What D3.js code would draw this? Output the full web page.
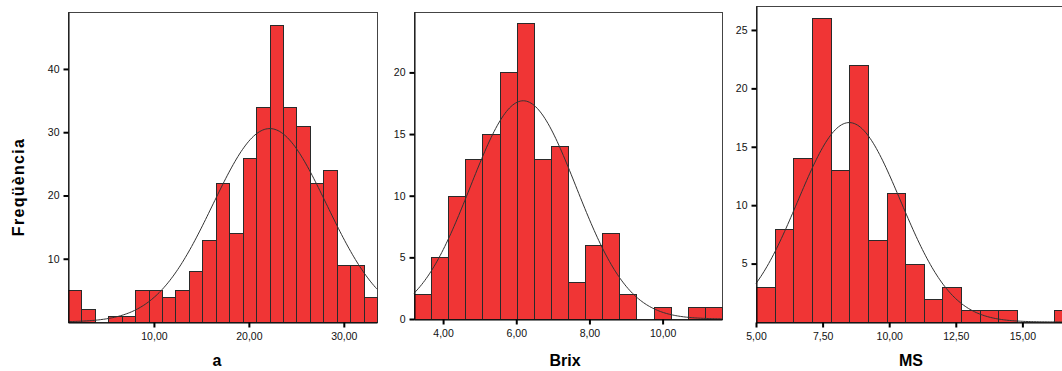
<!DOCTYPE html>
<html lang="ca">
<head>
<meta charset="utf-8">
<script src="https://d3js.org/d3.v7.min.js"></script>
<style>
  body { margin: 0; background: #fff; font-family: Arial, "Liberation Sans", sans-serif; }
  .tick text { font-size: 10.5px; fill: #111; }
  .tick line { stroke: #000; stroke-width: 2; }
  .bar { fill: #f03535; stroke: #2a2a2a; stroke-width: 1; }
  .curve { fill: none; stroke: #333; stroke-width: 1; }
  .frame { fill: none; stroke: #444; stroke-width: 1; }
  .title { font-size: 16px; font-weight: bold; }
</style>
</head>
<body>
<div id="chart"></div>
<script>
// histograms: first bin start, bin width, counts per bin
var aStart = 0.95, aWidth = 1.415;
var aCounts = [5, 2, 0, 1, 1, 5, 5, 4, 5, 8, 13, 22, 14, 26, 34, 47, 34, 31, 22, 24, 9, 9, 4];
var aMean = 22.2, aSd = 6.0;
var aTicksY = [10, 20, 30, 40];
var aTicksX = [10, 20, 30];

var brixStart = 3.205, brixWidth = 0.4677;
var brixCounts = [2, 5, 10, 13, 15, 20, 24, 13, 14, 3, 6, 7, 2, 0, 1, 0, 1, 1];
var brixMean = 6.19, brixSd = 1.444;
var brixTicksY = [0, 5, 10, 15, 20];
var brixTicksX = [4, 6, 8, 10];

var msStart = 5.0, msWidth = 0.7;
var msCounts = [3, 8, 14, 26, 13, 22, 7, 11, 5, 2, 3, 1, 1, 1, 0, 0, 1];
var msMean = 8.5, msSd = 1.93;
var msTicksY = [5, 10, 15, 20, 25];
var msTicksX = [5, 7.5, 10, 12.5, 15];

var W = 1062, H = 371;

var svg = d3.select("#chart")
    .append("svg")
    .attr("width", W)
    .attr("height", H);

// layout of the three panels
var panels = [
    { left: 68, right: 377, top: 12, bottom: 322, yMax: 49, title: "a", titleX: 217,
      start: aStart, width: aWidth, counts: aCounts, mean: aMean, sd: aSd, ticksY: aTicksY, ticksX: aTicksX },
    { left: 414, right: 722, top: 12, bottom: 319, yMax: 24.9, title: "Brix", titleX: 565,
      start: brixStart, width: brixWidth, counts: brixCounts, mean: brixMean, sd: brixSd, ticksY: brixTicksY, ticksX: brixTicksX },
    { left: 756, right: 1073, top: 6, bottom: 322, yMax: 27.05, title: "MS", titleX: 911,
      start: msStart, width: msWidth, counts: msCounts, mean: msMean, sd: msSd, ticksY: msTicksY, ticksX: msTicksX }
];

var fmt = function(d) { return d3.format(".2f")(d).replace(".", ","); };

panels.forEach(function(p) {
    var n = p.counts.length;
    var total = d3.sum(p.counts);
    var x = d3.scaleLinear()
        .domain([p.start, p.start + n * p.width])
        .range([p.left, p.right]);
    var y = d3.scaleLinear()
        .domain([0, p.yMax])
        .range([p.bottom, p.top]);

    var g = svg.append("g");

    // frame
    g.append("rect")
        .attr("class", "frame")
        .attr("x", p.left + 0.5)
        .attr("y", p.top + 0.5)
        .attr("width", p.right - p.left)
        .attr("height", p.bottom - p.top);

    // bars
    g.selectAll(".bar")
        .data(p.counts.map(function(c, i) { return { x0: p.start + i * p.width, x1: p.start + (i + 1) * p.width, c: c }; })
            .filter(function(d) { return d.c > 0; }))
        .enter()
        .append("rect")
        .attr("class", "bar")
        .attr("x", function(d) { return Math.round(x(d.x0)) + 0.5; })
        .attr("width", function(d) { return Math.round(x(d.x1)) - Math.round(x(d.x0)); })
        .attr("y", function(d) { return Math.round(y(d.c)) + 0.5; })
        .attr("height", function(d) { return Math.round(y(0)) - Math.round(y(d.c)); });

    // fitted normal curve
    var pts = d3.range(0, 201).map(function(k) {
        var xv = p.start + k / 200 * n * p.width;
        var z = (xv - p.mean) / p.sd;
        return [xv, total * p.width * Math.exp(-z * z / 2) / (p.sd * Math.sqrt(2 * Math.PI))];
    });
    g.append("path")
        .attr("class", "curve")
        .attr("d", d3.line()
            .x(function(d) { return x(d[0]); })
            .y(function(d) { return y(d[1]); })
            .curve(d3.curveBasis)(pts));

    // axes
    var ya = g.append("g")
        .attr("transform", "translate(" + (p.left + 0.5) + ",0)")
        .call(d3.axisLeft(y).tickValues(p.ticksY).tickSize(5).tickSizeOuter(0).tickPadding(4));
    ya.select(".domain").attr("stroke", "#000");

    var xa = g.append("g")
        .attr("transform", "translate(0," + (p.bottom + 0.5) + ")")
        .call(d3.axisBottom(x).tickValues(p.ticksX).tickFormat(fmt).tickSize(5).tickSizeOuter(0).tickPadding(5));
    xa.select(".domain").attr("stroke", "#000");

    // x title
    g.append("text")
        .attr("class", "title")
        .attr("x", p.titleX)
        .attr("y", 366)
        .attr("text-anchor", "middle")
        .text(p.title);
});

// y title
svg.append("text")
    .attr("class", "title")
    .attr("transform", "translate(24,187) rotate(-90)")
    .attr("text-anchor", "middle")
    .style("letter-spacing", "1.3px")
    .text("Freqüència");
</script>
</body>
</html>
